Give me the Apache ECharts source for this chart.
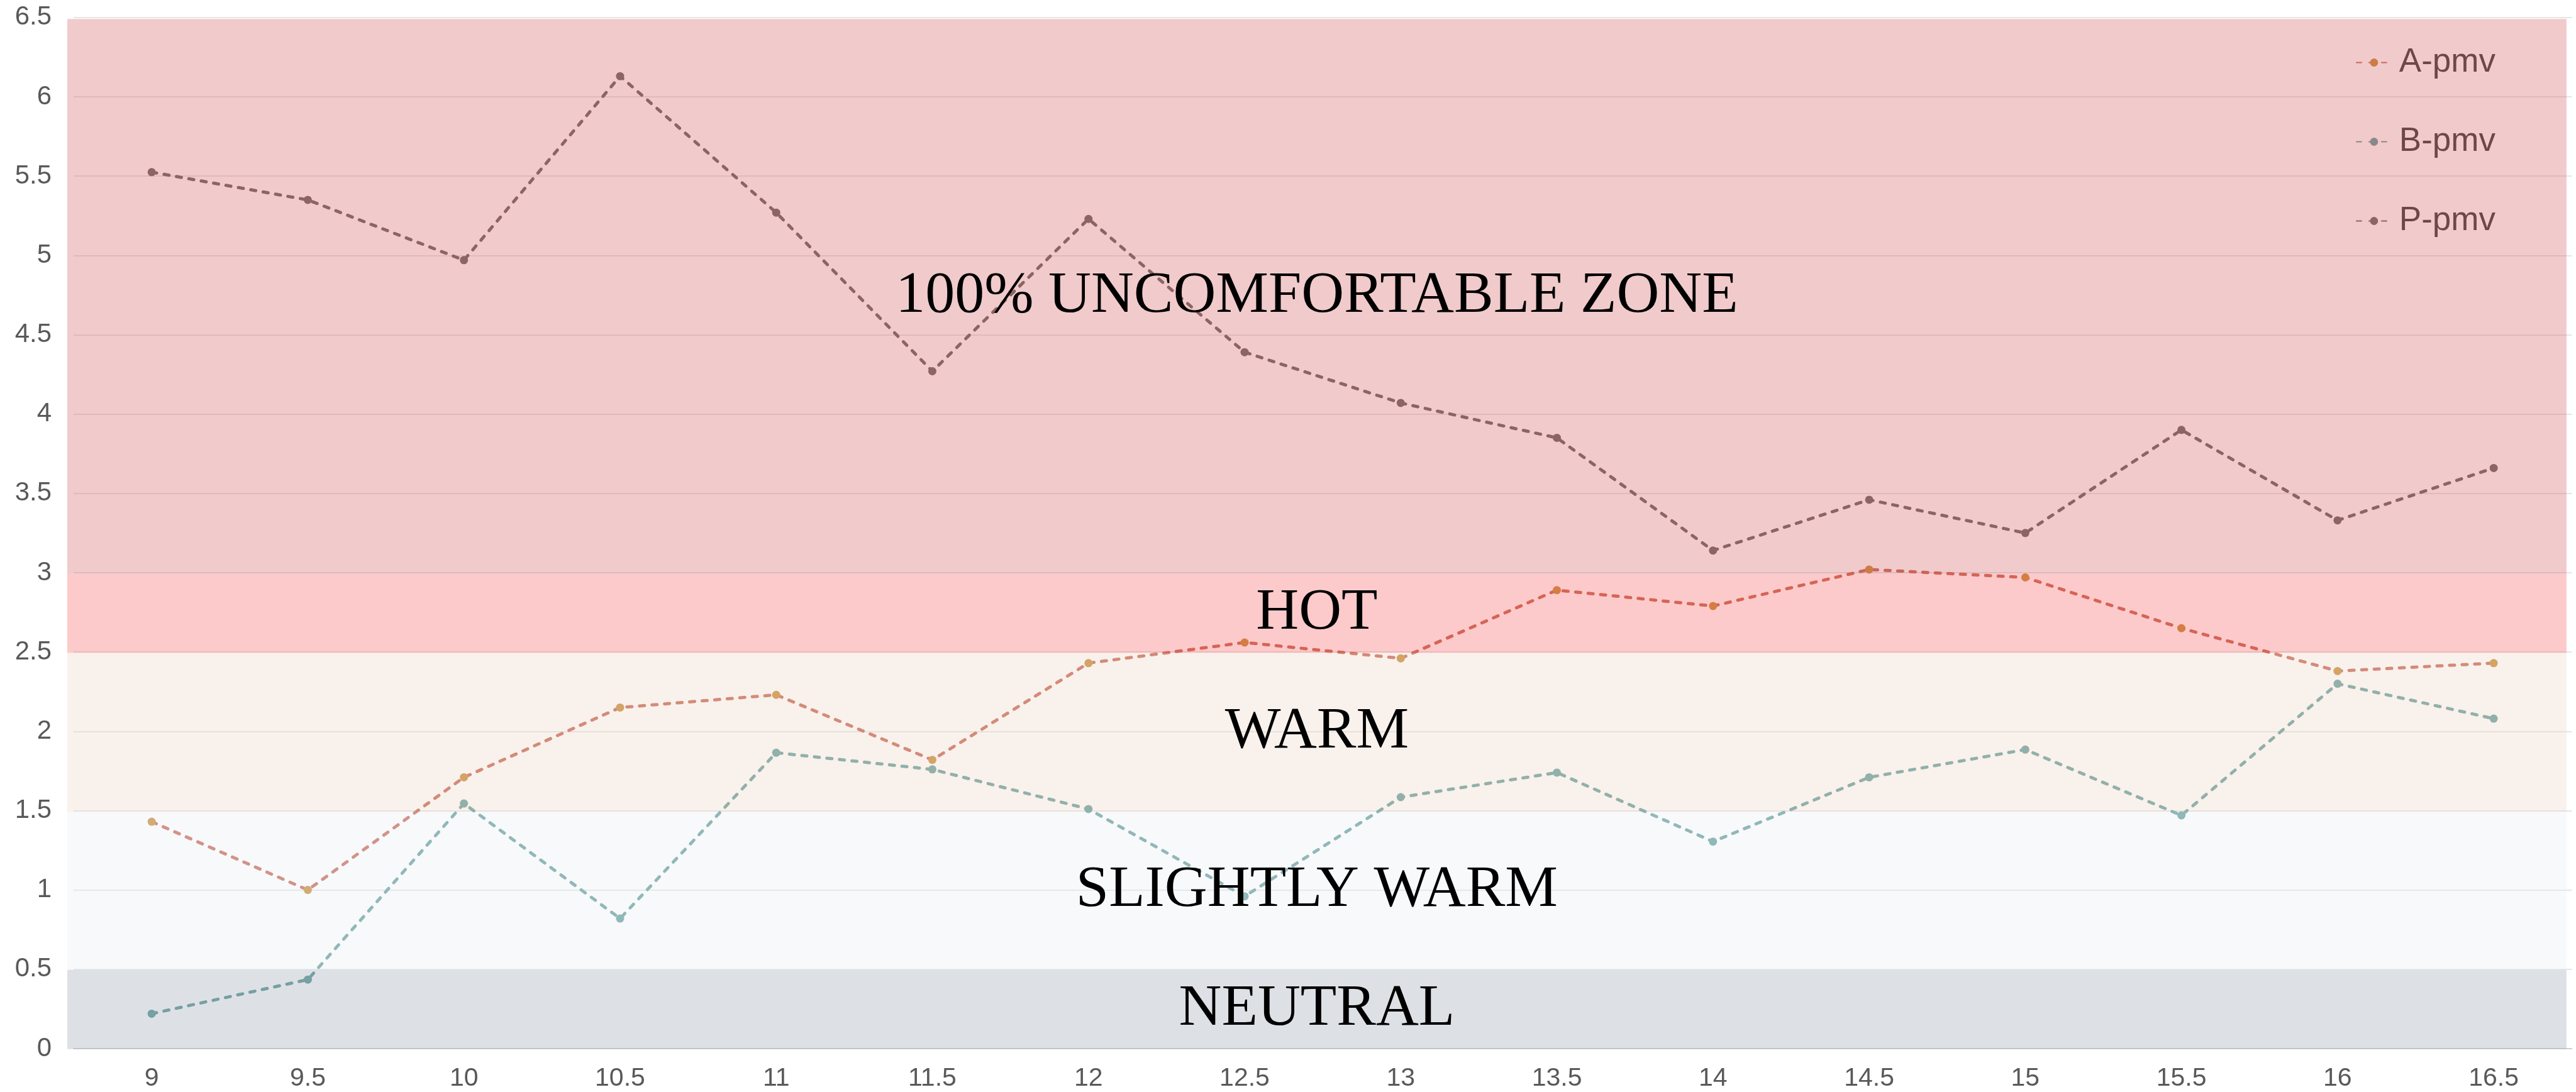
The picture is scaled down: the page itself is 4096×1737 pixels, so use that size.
<!DOCTYPE html>
<html>
<head>
<meta charset="utf-8">
<script src="https://cdn.jsdelivr.net/npm/echarts@6/dist/echarts.min.js"></script>
<style>
html,body{margin:0;padding:0;background:#fff;}
#chart{width:4096px;height:1737px;}
</style>
</head>
<body>
<div id="chart"></div>
<script>
// ---- data ----
const categories = ['9','9.5','10','10.5','11','11.5','12','12.5','13','13.5','14','14.5','15','15.5','16','16.5'];
const seriesNames = ['A-pmv','B-pmv','P-pmv'];
const aPmv = [1.43, 1.00, 1.71, 2.15, 2.23, 1.82, 2.43, 2.56, 2.46, 2.89, 2.79, 3.02, 2.97, 2.65, 2.38, 2.43];
const bPmv = [0.22, 0.435, 1.545, 0.82, 1.865, 1.76, 1.51, 0.96, 1.585, 1.74, 1.305, 1.71, 1.885, 1.47, 2.30, 2.08];
const pPmv = [5.525, 5.35, 4.97, 6.13, 5.27, 4.27, 5.23, 4.39, 4.07, 3.85, 3.14, 3.46, 3.25, 3.90, 3.33, 3.66];
const yMin = 0, yMax = 6.5, yInterval = 0.5;
const zoneNames = ['100% UNCOMFORTABLE ZONE','HOT','WARM','SLIGHTLY WARM','NEUTRAL'];
const zoneFrom  = [3, 2.5, 1.5, 0.5, 0];
const zoneTo    = [6.5, 3, 2.5, 1.5, 0.5];

// ---- styles ----
const S = 0.842;
const zoneColors = ['rgba(216,108,110,0.36)','rgba(247,108,108,0.36)','rgba(238,216,202,0.36)','rgba(236,238,244,0.36)','rgba(160,172,183,0.36)'];
const lineColors = ['#c4604c','#5e9998','#61605e'];
const dotColors  = ['#c4872d','#5e9998','#61605e'];
const seriesData = [aPmv, bPmv, pPmv];

const chart = echarts.init(document.getElementById('chart'));

const lineSeries = seriesNames.map((name, i) => ({
  name: name,
  type: 'line',
  xAxisIndex: 0,
  yAxisIndex: 0,
  data: seriesData[i],
  symbol: 'circle',
  symbolSize: 13,
  z: 2,
  lineStyle: { color: lineColors[i], width: 5, type: [8, 12], cap: 'round' },
  itemStyle: { color: dotColors[i] }
}));

const zoneData = zoneNames.map((n, i) => ([
  { name: n, xAxis: 0, yAxis: zoneFrom[i], itemStyle: { color: zoneColors[i] } },
  { xAxis: 1, yAxis: zoneTo[i] }
]));

const option = {
  animation: false,
  backgroundColor: '#ffffff',
  grid: [
    { left: 139 * S, right: 8 * S, top: 33 * S, bottom: 82 * S, containLabel: false },
    { left: 127 * S, right: 18 * S, top: 36 * S, bottom: 81 * S, containLabel: false }
  ],
  legend: {
    data: seriesNames,
    orient: 'vertical',
    right: 123,
    top: 68,
    itemWidth: 56,
    itemHeight: 16,
    itemGap: 73,
    textStyle: { fontSize: 53, color: '#333333', fontFamily: 'Liberation Sans', padding: [0, 0, 0, 7] }
  },
  xAxis: [
    {
      type: 'category', gridIndex: 0, data: categories, boundaryGap: true,
      axisLine: { show: true, lineStyle: { color: '#d0d0d0', width: 2 } },
      axisTick: { show: false },
      axisLabel: { fontSize: 41, color: '#595959', fontFamily: 'Liberation Sans', margin: 27 },
      splitLine: { show: false }
    },
    { type: 'value', gridIndex: 1, min: 0, max: 1, show: false }
  ],
  yAxis: [
    {
      type: 'value', gridIndex: 0, min: yMin, max: yMax, interval: yInterval,
      axisLine: { show: false }, axisTick: { show: false },
      axisLabel: { fontSize: 42, color: '#595959', fontFamily: 'Liberation Sans', margin: 35 },
      splitLine: { show: true, lineStyle: { color: '#dcdcdc', width: 1.7 } }
    },
    { type: 'value', gridIndex: 1, min: yMin, max: yMax, show: false }
  ],
  series: lineSeries.concat([{
    name: 'zones',
    type: 'line',
    xAxisIndex: 1,
    yAxisIndex: 1,
    data: [],
    silent: true,
    markArea: {
      silent: true,
      z: 10,
      label: {
        show: true,
        position: 'inside',
        fontFamily: 'Liberation Serif',
        fontSize: 94,
        color: '#000000'
      },
      data: zoneData
    }
  }])
};
chart.setOption(option);
</script>
</body>
</html>
